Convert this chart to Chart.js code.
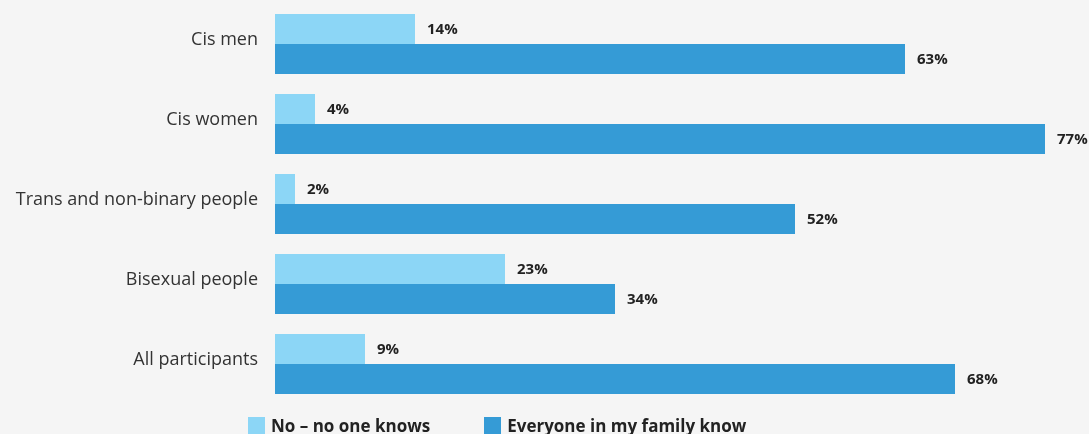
<!DOCTYPE html>
<html>
<head>
<meta charset="utf-8">
<script src="https://cdn.jsdelivr.net/npm/chart.js@4"></script>
<style>
  html, body { margin: 0; padding: 0; background: #f5f5f5; }
  #wrap { position: relative; width: 1089px; height: 434px; }
  #legend { position: absolute; left: 248px; top: 414px; display: flex; font: bold 17px "Open Sans", sans-serif; color: #222; }
  .item { display: flex; align-items: center; margin-right: 54px; }
  .box { width: 17px; height: 17px; margin-right: 6px; }
</style>
</head>
<body>
<div id="wrap">
  <canvas id="c" width="1089" height="434"></canvas>
  <div id="legend"></div>
</div>
<script>
const categories = ['Cis men', 'Cis women', 'Trans and non-binary people', 'Bisexual people', 'All participants'];
const noOneKnows = [14, 4, 2, 23, 9];
const everyoneKnows = [63, 77, 52, 34, 68];
const seriesNames = ['No \u2013 no one knows', 'Everyone in my family know'];
const seriesColors = ['#8cd6f6', '#359bd6'];

// value labels drawn just past the end of each bar
const valueLabels = {
  id: 'valueLabels',
  afterDatasetsDraw(chart) {
    const ctx = chart.ctx;
    ctx.save();
    ctx.font = 'bold 15px "Open Sans", sans-serif';
    ctx.fillStyle = '#222';
    ctx.textAlign = 'left';
    ctx.textBaseline = 'middle';
    chart.data.datasets.forEach((ds, i) => {
      chart.getDatasetMeta(i).data.forEach((bar, j) => {
        ctx.fillText(ds.data[j] + '%', bar.x + 12, bar.y + 1);
      });
    });
    ctx.restore();
  }
};

new Chart(document.getElementById('c'), {
  type: 'bar',
  data: {
    labels: categories,
    datasets: [
      { label: seriesNames[0], data: noOneKnows, backgroundColor: seriesColors[0] },
      { label: seriesNames[1], data: everyoneKnows, backgroundColor: seriesColors[1] }
    ]
  },
  options: {
    indexAxis: 'y',
    responsive: false,
    animation: false,
    layout: { padding: { top: 4, right: 14, bottom: 30, left: 0 } },
    datasets: { bar: { categoryPercentage: 0.75, barPercentage: 1 } },
    scales: {
      x: { display: false, min: 0, max: 80 },
      y: {
        grid: { display: false },
        border: { display: false },
        ticks: { padding: 9, labelOffset: -4, color: '#333', font: { family: '"Open Sans", sans-serif', size: 18 } },
        afterFit(s) { s.width = 275; s.paddingTop = 0; s.paddingBottom = 0; }
      }
    },
    plugins: { legend: { display: false }, tooltip: { enabled: false } }
  },
  plugins: [valueLabels]
});

const legend = document.getElementById('legend');
seriesNames.forEach((name, i) => {
  const item = document.createElement('div');
  item.className = 'item';
  const box = document.createElement('span');
  box.className = 'box';
  box.style.background = seriesColors[i];
  const txt = document.createElement('span');
  txt.textContent = name;
  item.appendChild(box);
  item.appendChild(txt);
  legend.appendChild(item);
});
</script>
</body>
</html>
